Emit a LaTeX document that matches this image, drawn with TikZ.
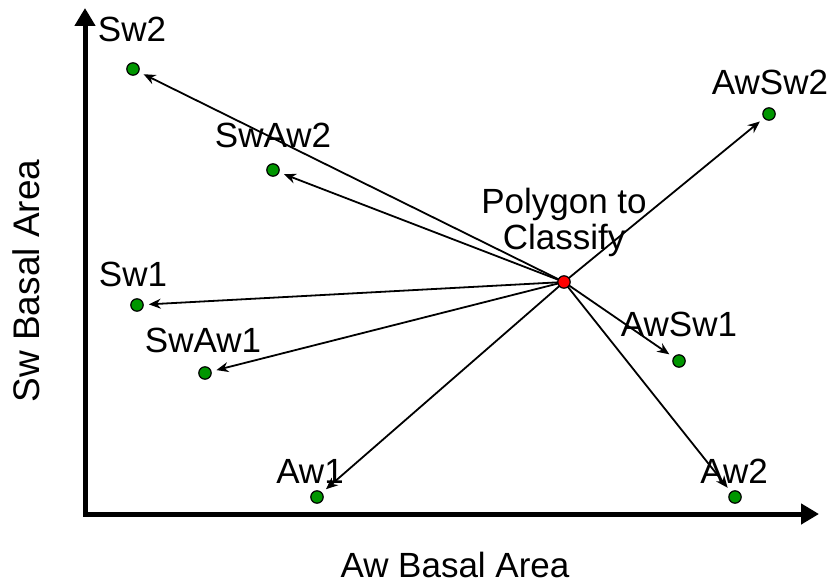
\documentclass[tikz,border=0pt]{standalone}
\usepackage{fontspec}
\setmainfont{Liberation Sans}
\usetikzlibrary{arrows.meta,backgrounds}
\definecolor{ptgreen}{RGB}{0,150,0}
\definecolor{ptred}{RGB}{255,0,0}
\begin{document}
\begin{tikzpicture}[x=0.5pt,y=-0.5pt,
  lbl/.style={anchor=base, inner sep=0pt, font=\fontsize{17.5}{18}\selectfont},
  sample/.style={circle, draw=black, line width=0.6pt, fill=ptgreen,
                 minimum size=6.2pt, inner sep=0pt},
  target/.style={sample, fill=ptred},
  link/.style={line width=0.9pt, -{Stealth[length=6pt,width=5pt]},
               shorten >=2.5pt},
  axis/.style={line width=2.5pt, line join=miter,
               {Triangle[length=9pt,width=10pt]}-{Triangle[length=9pt,width=10pt]}}]
\useasboundingbox (0,0) rectangle (828,582);

% axes
\coordinate (ytip) at (85,8);
\coordinate (origin) at (85,514);
\coordinate (xtip) at (819,514);
\draw[axis] (ytip) -- (origin) -- (xtip);
\node[lbl, font=\fontsize{18.5}{20}\selectfont, rotate=90] (ylab) at (39,281) {Sw Basal Area};
\node[lbl] (xlab) at (455,577) {Aw Basal Area};

% polygon to classify
\node[target] (c) at (564,282) {};
\node[lbl, align=center] (clab) at (564,250) {Polygon to\\Classify};

% reference samples
\node[sample] (sw2)   at (133,69)  {};
\node[sample] (swaw2) at (273,170) {};
\node[sample] (awsw2) at (769,114) {};
\node[sample] (sw1)   at (137,305) {};
\node[sample] (swaw1) at (205,373) {};
\node[sample] (awsw1) at (679,361) {};
\node[sample] (aw1)   at (317,497) {};
\node[sample] (aw2)   at (735,497) {};

\node[lbl] at (132,42)  {Sw2};
\node[lbl] at (273,148) {SwAw2};
\node[lbl] at (770,95)  {AwSw2};
\node[lbl] at (133,286) {Sw1};
\node[lbl] at (203,352) {SwAw1};
\node[lbl] at (679,336) {AwSw1};
\node[lbl] at (310,483) {Aw1};
\node[lbl] at (734,483) {Aw2};

% distances from the polygon to each sample
\begin{scope}[on background layer]
  \foreach \s in {sw2,swaw2,awsw2,sw1,swaw1,awsw1,aw1,aw2}
    \draw[link] (c.center) -- (\s);
\end{scope}
\end{tikzpicture}
\end{document}
